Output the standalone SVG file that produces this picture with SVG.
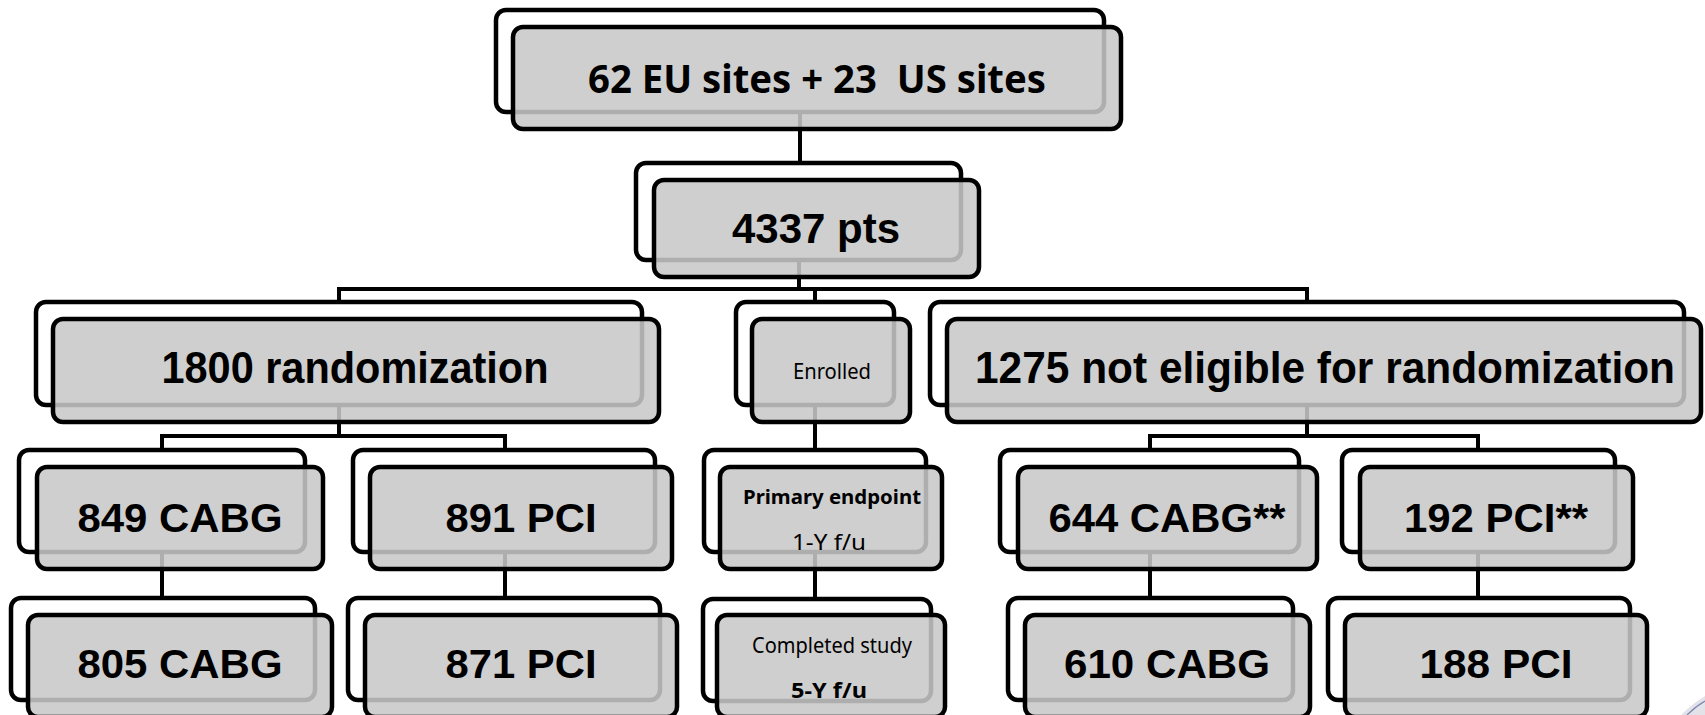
<svg xmlns="http://www.w3.org/2000/svg" width="1705" height="715" viewBox="0 0 1705 715">
<style>
.bk{fill:#ffffff;stroke:#000;stroke-width:4.5}
.fr{fill:#c8c8c8;fill-opacity:0.87;stroke:#000;stroke-width:4.5}
.cn{fill:none;stroke:#000;stroke-width:4;stroke-linejoin:miter}
.a{font-family:"Liberation Sans",Arial,sans-serif;font-weight:bold;fill:#000;text-anchor:middle}
.g{font-family:"Noto Sans","Open Sans",sans-serif;fill:#000;text-anchor:middle}
</style>
<rect width="1705" height="715" fill="#ffffff"/>
<g id="connectors">
<path class="cn" d="M800,112 V164"/>
<path class="cn" d="M799,261 V289"/>
<path class="cn" d="M339,302 V289 H1307 V302"/>
<path class="cn" d="M815,289 V302"/>
<path class="cn" d="M339,405 V436"/>
<path class="cn" d="M162,450 V436 H505 V450"/>
<path class="cn" d="M162,552 V598"/>
<path class="cn" d="M505,552 V598"/>
<path class="cn" d="M815,405 V450"/>
<path class="cn" d="M815,552 V599"/>
<path class="cn" d="M1307,405 V436"/>
<path class="cn" d="M1150,450 V436 H1478 V450"/>
<path class="cn" d="M1150,552 V598"/>
<path class="cn" d="M1478,552 V598"/>
</g>
<g id="n-sites">
<rect class="bk" x="496" y="10" width="608" height="102" rx="10"/>
<rect class="fr" x="513" y="27" width="608" height="102" rx="10"/>
<text class="g" x="817" y="93" font-size="39" font-weight="bold" textLength="458" lengthAdjust="spacingAndGlyphs" xml:space="preserve">62 EU sites + 23  US sites</text>
</g>
<g id="n-pts">
<rect class="bk" x="636" y="163" width="325" height="97" rx="10"/>
<rect class="fr" x="654" y="180" width="325" height="97" rx="10"/>
<text class="a" x="816" y="243" font-size="43" textLength="168" lengthAdjust="spacingAndGlyphs">4337 pts</text>
</g>
<g id="n-rand">
<rect class="bk" x="36" y="302" width="606" height="103" rx="10"/>
<rect class="fr" x="53" y="319" width="606" height="103" rx="10"/>
<text class="a" x="355" y="383" font-size="44" textLength="387" lengthAdjust="spacingAndGlyphs">1800 randomization</text>
</g>
<g id="n-enrolled">
<rect class="bk" x="736" y="302" width="158" height="103" rx="10"/>
<rect class="fr" x="752" y="319" width="158" height="103" rx="10"/>
<text class="g" x="832" y="379" font-size="22" textLength="78" lengthAdjust="spacingAndGlyphs">Enrolled</text>
</g>
<g id="n-noteligible">
<rect class="bk" x="930" y="302" width="754" height="103" rx="10"/>
<rect class="fr" x="947" y="319" width="754" height="103" rx="10"/>
<text class="a" x="1325" y="383" font-size="44" textLength="700" lengthAdjust="spacingAndGlyphs">1275 not eligible for randomization</text>
</g>
<g id="n-849">
<rect class="bk" x="19" y="450" width="286" height="102" rx="10"/>
<rect class="fr" x="37" y="467" width="286" height="102" rx="10"/>
<text class="a" x="180" y="532" font-size="40" textLength="205" lengthAdjust="spacingAndGlyphs">849 CABG</text>
</g>
<g id="n-891">
<rect class="bk" x="353" y="450" width="302" height="102" rx="10"/>
<rect class="fr" x="370" y="467" width="302" height="102" rx="10"/>
<text class="a" x="521" y="532" font-size="40" textLength="151" lengthAdjust="spacingAndGlyphs">891 PCI</text>
</g>
<g id="n-primary">
<rect class="bk" x="704" y="450" width="222" height="102" rx="10"/>
<rect class="fr" x="720" y="467" width="222" height="102" rx="10"/>
<text class="g" x="832" y="504" font-size="20" font-weight="bold" textLength="178" lengthAdjust="spacingAndGlyphs">Primary endpoint</text>
<text class="g" x="829" y="550" font-size="21" textLength="74" lengthAdjust="spacingAndGlyphs">1-Y f/u</text>
</g>
<g id="n-644">
<rect class="bk" x="1000" y="450" width="299" height="102" rx="10"/>
<rect class="fr" x="1018" y="467" width="299" height="102" rx="10"/>
<text class="a" x="1167" y="532" font-size="40" textLength="237" lengthAdjust="spacingAndGlyphs">644 CABG**</text>
</g>
<g id="n-192">
<rect class="bk" x="1342" y="450" width="273" height="102" rx="10"/>
<rect class="fr" x="1360" y="467" width="273" height="102" rx="10"/>
<text class="a" x="1496" y="532" font-size="40" textLength="184" lengthAdjust="spacingAndGlyphs">192 PCI**</text>
</g>
<g id="n-805">
<rect class="bk" x="11" y="598" width="304" height="102" rx="10"/>
<rect class="fr" x="28" y="615" width="304" height="102" rx="10"/>
<text class="a" x="180" y="678" font-size="40" textLength="205" lengthAdjust="spacingAndGlyphs">805 CABG</text>
</g>
<g id="n-871">
<rect class="bk" x="348" y="598" width="312" height="102" rx="10"/>
<rect class="fr" x="365" y="615" width="312" height="102" rx="10"/>
<text class="a" x="521" y="678" font-size="40" textLength="151" lengthAdjust="spacingAndGlyphs">871 PCI</text>
</g>
<g id="n-completed">
<rect class="bk" x="703" y="599" width="228" height="102" rx="10"/>
<rect class="fr" x="717" y="615" width="228" height="102" rx="10"/>
<text class="g" x="832" y="653" font-size="21" textLength="160" lengthAdjust="spacingAndGlyphs">Completed study</text>
<text class="g" x="829" y="698" font-size="21" font-weight="bold" textLength="76" lengthAdjust="spacingAndGlyphs">5-Y f/u</text>
</g>
<g id="n-610">
<rect class="bk" x="1008" y="598" width="285" height="102" rx="10"/>
<rect class="fr" x="1025" y="615" width="285" height="102" rx="10"/>
<text class="a" x="1167" y="678" font-size="40" textLength="206" lengthAdjust="spacingAndGlyphs">610 CABG</text>
</g>
<g id="n-188">
<rect class="bk" x="1328" y="598" width="302" height="102" rx="10"/>
<rect class="fr" x="1345" y="615" width="302" height="102" rx="10"/>
<text class="a" x="1496" y="678" font-size="40" textLength="153" lengthAdjust="spacingAndGlyphs">188 PCI</text>
</g>
<path d="M1681,715 Q1692,704 1705,696 L1705,715 Z" fill="#e2e2e8"/>
<path d="M1687,715 Q1696,706 1705,701" fill="none" stroke="#7b86b3" stroke-width="1.2"/>
</svg>
